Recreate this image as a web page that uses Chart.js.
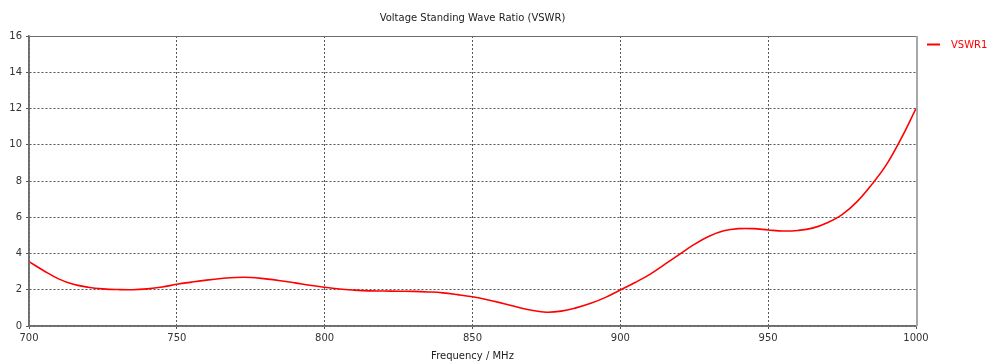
<!DOCTYPE html>
<html>
<head>
    <title>VSWR</title>
    <script src="https://cdn.jsdelivr.net/npm/chart.js"></script>
    <style>
        body { margin: 0; background: #fff; }
    </style>
</head>
<body>
    <div style="width: 1000px; height: 362px;">
        <canvas id="myChart"></canvas>
    </div>
    <script>
        // values
        const freqs = [700, 705, 710, 715, 720, 725, 730, 735, 740, 745,
                       750, 755, 760, 765, 770, 775, 780, 785, 790, 795,
                       800, 805, 810, 815, 820, 825, 830, 835, 840, 845,
                       850, 855, 860, 865, 870, 875, 880, 885, 890, 895,
                       900, 905, 910, 915, 920, 925, 930, 935, 940, 945,
                       950, 955, 960, 965, 970, 975, 980, 985, 990, 995, 1000];
        const vswr1 = [3.55, 3.05, 2.6, 2.3, 2.14, 2.05, 2.01, 2.0, 2.05, 2.15,
                       2.3, 2.42, 2.53, 2.62, 2.68, 2.68, 2.6, 2.5, 2.38, 2.25,
                       2.14, 2.04, 1.98, 1.94, 1.93, 1.92, 1.91, 1.88, 1.83, 1.73,
                       1.61, 1.45, 1.26, 1.05, 0.87, 0.76, 0.82, 1.0, 1.25, 1.58,
                       1.99, 2.4, 2.85, 3.4, 3.95, 4.5, 4.95, 5.25, 5.37, 5.37,
                       5.3, 5.24, 5.27, 5.4, 5.7, 6.15, 6.85, 7.8, 8.9, 10.35, 12.0];
        const seriesName = 'VSWR1';
        const chartTitle = 'Voltage Standing Wave Ratio (VSWR)';
        const xTitle = 'Frequency / MHz';

        const font = { family: 'Tahoma, "DejaVu Sans", sans-serif', size: 10 };

        // frame, title and legend drawn by hand to match the original layout
        const decor = {
            id: 'decor',
            afterDraw(chart) {
                const ctx = chart.ctx;
                const a = chart.chartArea;
                ctx.save();
                // solid frame: left/bottom/top dark, right light gray
                ctx.strokeStyle = '#6e6e6e';
                ctx.lineWidth = 1.5;
                ctx.beginPath();
                ctx.moveTo(a.left, a.top);
                ctx.lineTo(a.left, a.bottom);
                ctx.lineTo(a.right, a.bottom);
                ctx.stroke();
                ctx.lineWidth = 1;
                ctx.beginPath();
                ctx.moveTo(a.left, a.top + 0.5);
                ctx.lineTo(a.right, a.top + 0.5);
                ctx.stroke();
                ctx.strokeStyle = '#a8a8a8';
                ctx.lineWidth = 2;
                ctx.beginPath();
                ctx.moveTo(a.right + 1, a.top);
                ctx.lineTo(a.right + 1, a.bottom);
                ctx.stroke();

                ctx.fillStyle = '#222';
                ctx.font = '10px ' + font.family;
                ctx.textAlign = 'center';
                ctx.textBaseline = 'middle';
                ctx.fillText(chartTitle, (a.left + a.right) / 2, 18);

                const ds = chart.data.datasets[0];
                ctx.strokeStyle = ds.borderColor;
                ctx.lineWidth = 2;
                ctx.beginPath();
                ctx.moveTo(a.right + 11, 44.5);
                ctx.lineTo(a.right + 24, 44.5);
                ctx.stroke();
                ctx.fillStyle = ds.borderColor;
                ctx.textAlign = 'left';
                ctx.fillText(ds.label, a.right + 35, 45);
                ctx.restore();
            }
        };

        const ctx = document.getElementById('myChart').getContext('2d');
        new Chart(ctx, {
            type: 'line',
            data: {
                datasets: [{
                    label: seriesName,
                    data: freqs.map((f, i) => ({ x: f, y: vswr1[i] })),
                    borderColor: '#ff0000',
                    borderWidth: 1.6,
                    pointRadius: 0,
                    tension: 0.4,
                    fill: false
                }]
            },
            options: {
                responsive: true,
                maintainAspectRatio: false,
                animation: false,
                layout: { padding: { top: 36, right: 84, left: 0, bottom: 0 } },
                plugins: {
                    legend: { display: false },
                    title: { display: false },
                    tooltip: { enabled: false }
                },
                scales: {
                    x: {
                        type: 'linear',
                        min: 700,
                        max: 1000,
                        ticks: {
                            stepSize: 50, color: '#333', font: font, padding: 3, maxRotation: 0,
                            callback: v => String(v)
                        },
                        grid: { color: '#555', tickLength: 3, tickColor: '#555' },
                        border: { color: '#6e6e6e', width: 1.5, dash: [2, 2] },
                        title: { display: true, text: xTitle, color: '#222', font: font, padding: { top: 4, bottom: 0 } },
                        afterFit(scale) { scale.height = 36; }
                    },
                    y: {
                        min: 0,
                        max: 16,
                        ticks: { stepSize: 2, color: '#333', font: font, padding: 4 },
                        grid: { color: '#555', tickLength: 3, tickColor: '#555' },
                        border: { color: '#6e6e6e', width: 1.5, dash: [2, 2] },
                        afterFit(scale) { scale.width = 29; }
                    }
                }
            },
            plugins: [decor]
        });
    </script>
</body>
</html>
